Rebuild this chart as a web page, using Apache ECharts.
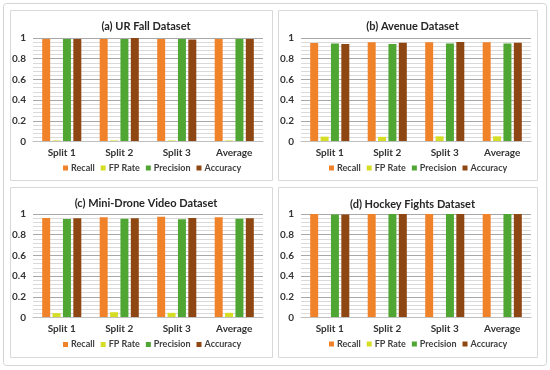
<!DOCTYPE html>
<html>
<head>
<meta charset="utf-8">
<script src="https://cdn.jsdelivr.net/npm/echarts@6/dist/echarts.min.js"></script>
<style>
html,body{margin:0;padding:0;background:#fff;}
#c{width:550px;height:370px;}
</style>
</head>
<body>
<div id="c"></div>
<script>
// ---- data ----
var categories = ['Split 1', 'Split 2', 'Split 3', 'Average'];
var seriesNames = ['Recall', 'FP Rate', 'Precision', 'Accuracy'];
var yTicks = [0, 0.2, 0.4, 0.6, 0.8, 1];
var minorStep = 0.04;

var titles = ['(a) UR Fall Dataset', '(b) Avenue Dataset', '(c) Mini-Drone Video Dataset', '(d) Hockey Fights Dataset'];

var urFallRecall    = [0.99, 0.99, 0.99, 0.99];
var urFallFP        = [0.01, 0.01, 0.01, 0.01];
var urFallPrecision = [0.99, 0.99, 0.99, 0.99];
var urFallAccuracy  = [0.99, 1.00, 0.985, 0.99];

var avenueRecall    = [0.951, 0.958, 0.958, 0.958];
var avenueFP        = [0.047, 0.045, 0.05, 0.05];
var avenuePrecision = [0.948, 0.942, 0.948, 0.948];
var avenueAccuracy  = [0.942, 0.955, 0.961, 0.955];

var droneRecall    = [0.961, 0.968, 0.974, 0.968];
var droneFP        = [0.042, 0.051, 0.045, 0.045];
var dronePrecision = [0.952, 0.955, 0.949, 0.955];
var droneAccuracy  = [0.958, 0.958, 0.961, 0.958];

var hockeyRecall    = [1.0, 1.0, 1.0, 1.0];
var hockeyFP        = [0.0, 0.004, 0.0, 0.0];
var hockeyPrecision = [0.994, 1.0, 1.0, 1.0];
var hockeyAccuracy  = [0.994, 1.0, 1.0, 1.0];

var datasets = [
  [urFallRecall, urFallFP, urFallPrecision, urFallAccuracy],
  [avenueRecall, avenueFP, avenuePrecision, avenueAccuracy],
  [droneRecall, droneFP, dronePrecision, droneAccuracy],
  [hockeyRecall, hockeyFP, hockeyPrecision, hockeyAccuracy]
];

// ---- styling / layout ----
var colors = ['#F0822A', '#D5DD25', '#4FA632', '#8E4712'];
var FONT = 'Lato';
var panels = [
  {gl: 33,  gt: 38,  title: 16,  legX: 63,  legend: 163.5, box: [10, 10, 262, 170]},
  {gl: 301, gt: 38,  title: 16,  legX: 329, legend: 163.5, box: [278, 10, 259, 170]},
  {gl: 33,  gt: 214, title: 193, legX: 63,  legend: 340,   box: [10, 187, 262, 170]},
  {gl: 301, gt: 214, title: 194, legX: 329, legend: 339.5, box: [278, 187, 259, 170]}
];

var chart = echarts.init(document.getElementById('c'), null, {renderer: 'canvas'});
var option = {
  animation: false,
  color: colors,
  title: [], legend: [], grid: [], xAxis: [], yAxis: [], series: [],
  graphic: []
};

option.graphic.push({
  type: 'rect', shape: {x: 3.5, y: 3.5, width: 543, height: 362, r: 3},
  style: {fill: 'none', stroke: '#d4d4d4', lineWidth: 1}, z: -10
});

var yMin = yTicks[0], yMax = yTicks[yTicks.length - 1];

panels.forEach(function (p, i) {
  var cx = p.box[0] + p.box[2] / 2;
  option.graphic.push({
    type: 'rect', shape: {x: p.box[0] + 0.5, y: p.box[1] + 0.5, width: p.box[2], height: p.box[3]},
    style: {fill: 'none', stroke: '#d9d9d9', lineWidth: 1}, z: -10
  });
  option.title.push({
    text: titles[i], left: cx, top: p.title, textAlign: 'center',
    textStyle: {fontFamily: FONT, fontSize: 11, fontWeight: 'bold', color: '#262626'}
  });
  option.legend.push({
    data: seriesNames, left: p.legX, top: p.legend, width: 230, padding: 0,
    orient: 'horizontal', itemWidth: 5, itemHeight: 5, itemGap: 6, icon: 'rect',
    textStyle: {fontFamily: FONT, fontSize: 9, fontWeight: 'bold', color: '#404040', padding: [0, 0, 0, -2]},
    selectedMode: false
  });
  option.grid.push({left: p.gl, top: p.gt, width: 230, height: 103.5, containLabel: false});
  option.xAxis.push({
    type: 'category', gridIndex: i, data: categories,
    axisLine: {show: true, lineStyle: {color: '#bfbfbf'}},
    axisTick: {show: false},
    axisLabel: {margin: 6, fontFamily: FONT, fontSize: 10, fontWeight: 'bold', color: '#333333'},
    splitLine: {show: false},
    z: 5
  });
  // main value axis (index 2*i)
  option.yAxis.push({
    type: 'value', gridIndex: i, min: yMin, max: yMax,
    interval: yTicks[1] - yTicks[0],
    axisLine: {show: false}, axisTick: {show: false},
    axisLabel: {margin: 7, fontFamily: FONT, fontSize: 10, fontWeight: 'bold', color: '#333333'},
    splitLine: {show: true, lineStyle: {color: '#a8a8a8', width: 1}},
    z: 2
  });
  // minor gridline axis (index 2*i+1)
  option.yAxis.push({
    type: 'value', gridIndex: i, min: yMin, max: yMax, interval: minorStep,
    position: 'right', show: true,
    axisLine: {show: false}, axisTick: {show: false}, axisLabel: {show: false},
    splitLine: {show: true, lineStyle: {color: '#dadada', width: 1, type: 'solid'}},
    z: 1
  });
  seriesNames.forEach(function (name, k) {
    option.series.push({
      type: 'bar', name: name, xAxisIndex: i, yAxisIndex: 2 * i,
      data: datasets[i][k],
      barCategoryGap: '32%', barGap: '30%',
      itemStyle: {color: colors[k]}
    });
  });
});

chart.setOption(option);
</script>
</body>
</html>
